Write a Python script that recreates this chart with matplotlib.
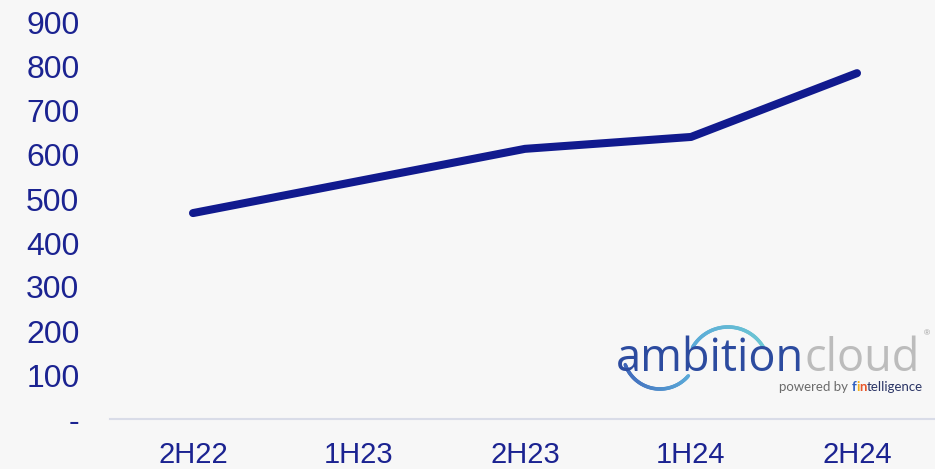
import numpy as np
from matplotlib import pyplot as plt
from matplotlib import colors as mcolors

# Half-year periods and values
periods = ["2H22", "1H23", "2H23", "1H24", "2H24"]
values = [468, 541, 614, 641, 786]
y_ticks = [0, 100, 200, 300, 400, 500, 600, 700, 800, 900]
y_tick_labels = ["-", "100", "200", "300", "400", "500", "600", "700", "800", "900"]

bg = "#f7f7f7"
navy = "#111a8e"
label_blue = "#1b2391"

plt.rcParams['font.family'] = ['Liberation Sans', 'DejaVu Sans']

fig = plt.figure(figsize=(9.35, 4.69), dpi=100, facecolor=bg)
ax = fig.add_axes([110 / 935, 50 / 469, 830 / 935, 396 / 469])
ax.set_facecolor(bg)

x = np.arange(len(periods))
ax.plot(x, values, color=navy, linewidth=5.8, solid_capstyle='round', solid_joinstyle='round')

ax.set_xlim(-0.5, len(periods) - 0.5)
ax.set_ylim(0, 900)
ax.set_xticks(x)
ax.set_xticklabels(periods, fontsize=21, color=label_blue)
ax.set_yticks(y_ticks)
ax.set_yticklabels(y_tick_labels, fontsize=23, color=label_blue)
ax.tick_params(axis='x', length=0, pad=16)
ax.tick_params(axis='y', length=0, pad=22)
for side in ['top', 'right', 'left']:
    ax.spines[side].set_visible(False)
ax.spines['bottom'].set_color("#d9dce8")
ax.spines['bottom'].set_linewidth(1.5)

# Logo overlay in pixel-like coordinates
lg = fig.add_axes([0, 0, 1, 1], facecolor='none')
lg.set_xlim(0, 935)
lg.set_ylim(469, 0)
lg.axis('off')

# swoosh arcs
t = np.radians(np.linspace(160, 40, 60))
lx = 660 + 37 * np.cos(t)
ly = 352 + 37 * np.sin(t)
t2 = np.radians(np.linspace(150, 30, 60))
ux = 728 + 41 * np.cos(t2)
uy = 368 - 41 * np.sin(t2)
for xs, ys, c0, c1 in [(lx, ly, "#3e64b8", "#5aa9d8"), (ux, uy, "#5aa9d8", "#6cc7d3")]:
    c0 = np.array(mcolors.to_rgb(c0))
    c1 = np.array(mcolors.to_rgb(c1))
    for i in range(len(xs) - 1):
        f = i / (len(xs) - 2)
        lg.plot(xs[i:i + 2], ys[i:i + 2], color=c0 * (1 - f) + c1 * f, linewidth=2.6,
                solid_capstyle='round')

logo_font = ['Open Sans', 'DejaVu Sans']
t_amb = lg.text(616, 371, "ambition", fontsize=32.5, family=logo_font, weight='normal',
                color="#2c4b9f", va='baseline', ha='left')
t_cloud = lg.annotate("cloud", xy=(1, 0), xycoords=t_amb, fontsize=32.5, family=logo_font,
                      weight='normal', color="#bcbcbc", va='bottom', ha='left')
lg.annotate("®", xy=(1, 1), xycoords=t_cloud, xytext=(3, 4), textcoords='offset points', fontsize=6,
            color="#999999", va='top', ha='left')

small = ['Lato', 'DejaVu Sans']
t_pow = lg.text(779, 391, "powered by ", fontsize=9.5, family=small,
                color="#6b6b6b", va='baseline', ha='left')
t_f = lg.annotate("f", xy=(1, 0), xycoords=t_pow, fontsize=9.5, family=small,
                  weight='bold', color="#2f5fc0", va='bottom', ha='left')
t_i = lg.annotate("i", xy=(1, 0), xycoords=t_f, fontsize=9.5, family=small,
                  weight='bold', color="#f2b01e", va='bottom', ha='left')
t_n = lg.annotate("n", xy=(1, 0), xycoords=t_i, fontsize=9.5, family=small,
                  weight='bold', color="#e8562a", va='bottom', ha='left')
lg.annotate("telligence", xy=(1, 0), xycoords=t_n, fontsize=9.5, family=small,
            color="#2b3566", va='bottom', ha='left')

fig.savefig("out.png", dpi=100, facecolor=bg)
